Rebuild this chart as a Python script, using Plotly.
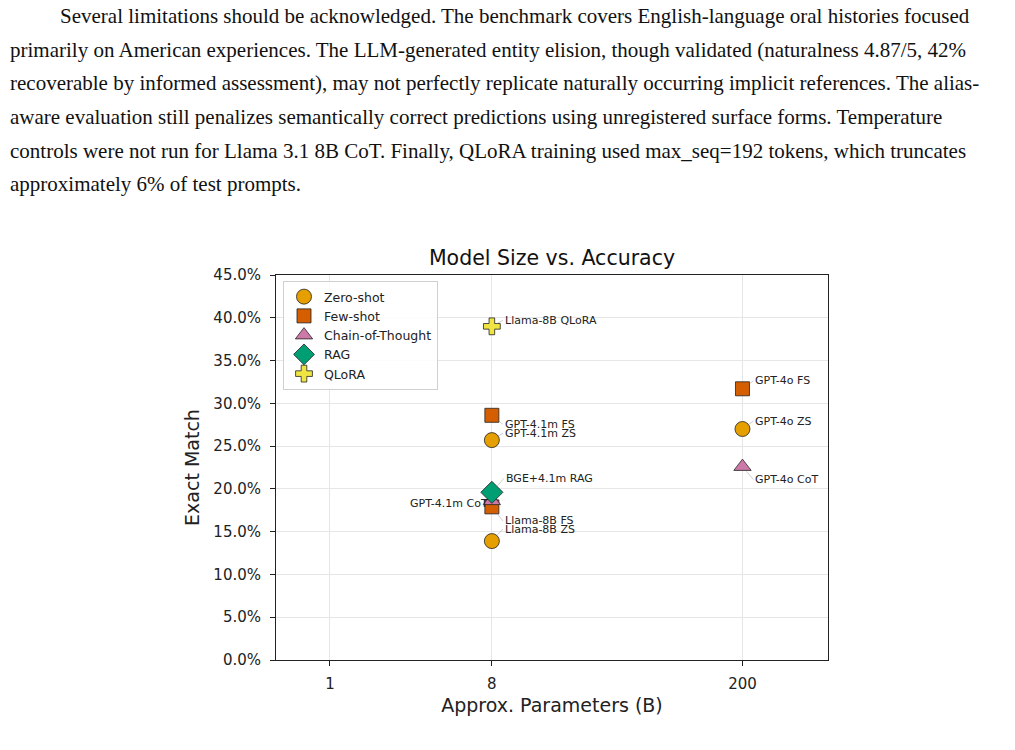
import numpy as np
import plotly.graph_objects as go

# ---------------- data ----------------
zs_labels = ["Llama-8B ZS", "GPT-4.1m ZS", "GPT-4o ZS"]
zs_params = [8, 8, 200]
zs_em = [13.9, 25.7, 27.0]

fs_labels = ["Llama-8B FS", "GPT-4.1m FS", "GPT-4o FS"]
fs_params = [8, 8, 200]
fs_em = [17.9, 28.6, 31.7]

cot_labels = ["GPT-4.1m CoT", "GPT-4o CoT"]
cot_params = [8, 200]
cot_em = [18.6, 22.6]

rag_labels = ["BGE+4.1m RAG"]
rag_params = [8]
rag_em = [19.6]

qlora_labels = ["Llama-8B QLoRA"]
qlora_params = [8]
qlora_em = [39.0]

x_ticks = [1, 8, 200]
y_ticks = [0, 5, 10, 15, 20, 25, 30, 35, 40, 45]

paragraph_lines = [
    "Several limitations should be acknowledged. The benchmark covers English-language oral histories focused",
    "primarily on American experiences. The LLM-generated entity elision, though validated (naturalness 4.87/5, 42%",
    "recoverable by informed assessment), may not perfectly replicate naturally occurring implicit references. The alias-",
    "aware evaluation still penalizes semantically correct predictions using unregistered surface forms. Temperature",
    "controls were not run for Llama 3.1 8B CoT. Finally, QLoRA training used max_seq=192 tokens, which truncates",
    "approximately 6% of test prompts.",
]

# ---------------- styles / layout ----------------
W, H = 1015, 750
L, R, T, B = 276, 828, 275, 660   # plot area in pixels

series = [
    ("Zero-shot", zs_labels, zs_params, zs_em, "circle", "#E69F00", 15),
    ("Few-shot", fs_labels, fs_params, fs_em, "square", "#D55E00", 14),
    ("Chain-of-Thought", cot_labels, cot_params, cot_em, "triangle-up", "#CC79A7", 15),
    ("RAG", rag_labels, rag_params, rag_em, "diamond", "#009E73", 17),
    ("QLoRA", qlora_labels, qlora_params, qlora_em, "cross", "#F0E442", 14),
]

# label offsets in pixels (dx to text edge, dy to text centre)
label_offsets = {
    "Llama-8B QLoRA": (11, -6, "left"),
    "GPT-4.1m FS": (11, 9, "left"),
    "GPT-4.1m ZS": (11, -7, "left"),
    "BGE+4.1m RAG": (12, -14, "left"),
    "GPT-4.1m CoT": (-2, 3, "right"),
    "Llama-8B FS": (11, 14, "left"),
    "Llama-8B ZS": (11, -12, "left"),
    "GPT-4o FS": (11, -8, "left"),
    "GPT-4o ZS": (11, -8, "left"),
    "GPT-4o CoT": (11, 13, "left"),
}


def px_to_paper(px, py):
    return (px - L) / (R - L), (B - py) / (B - T)


FONT = "DejaVu Sans"
fig = go.Figure()

for name, labels, xs, ys, sym, col, sz in series:
    fig.add_trace(go.Scatter(
        x=xs, y=ys, mode="markers", name=name,
        marker=dict(symbol=sym, color=col, size=sz,
                    line=dict(color="#222222", width=0.8)),
        hoverinfo="text", text=labels,
    ))

annotations = []
for name, labels, xs, ys, sym, col, sz in series:
    for lab, xv, yv in zip(labels, xs, ys):
        dx, dy, anch = label_offsets[lab]
        annotations.append(dict(
            x=np.log10(xv), y=yv, xref="x", yref="y",
            text=lab, showarrow=True, ax=dx, ay=dy,
            xanchor=anch, yanchor="middle",
            arrowhead=0, arrowwidth=0.6, arrowcolor="rgba(120,120,120,0.6)",
            standoff=6,
            font=dict(family=FONT, size=11, color="#222222"),
        ))

# paragraph text above the chart
line_y = [16, 50, 83, 117, 151, 184]
for i, (line, yy) in enumerate(zip(paragraph_lines, line_y)):
    xp, yp = px_to_paper(58 if i == 0 else 8, yy)
    annotations.append(dict(
        x=xp, y=yp, xref="paper", yref="paper", xanchor="left", yanchor="middle",
        text=line, showarrow=False,
        font=dict(family="Liberation Serif", size=21, color="#111111"),
    ))

lx, ly = px_to_paper(283, 281)
fig.update_layout(
    width=W, height=H,
    margin=dict(l=L, r=W - R, t=T, b=H - B),
    paper_bgcolor="white", plot_bgcolor="white",
    font=dict(family=FONT, size=15, color="#222222"),
    title=dict(text="Model Size vs. Accuracy", x=552 / W, xanchor="center",
               y=1 - 258 / H, yanchor="middle",
               font=dict(family=FONT, size=20.5, color="#111111")),
    showlegend=True,
    legend=dict(x=lx, y=ly, xanchor="left", yanchor="top",
                bgcolor="rgba(255,255,255,0.85)", bordercolor="#d0d0d0",
                borderwidth=1, font=dict(family=FONT, size=12.5, color="#222222"),
                itemsizing="trace", tracegroupgap=0),
    annotations=annotations,
)

fig.update_xaxes(
    type="log", range=[np.log10(0.5), np.log10(600)],
    tickvals=x_ticks, ticktext=[str(t) for t in x_ticks],
    showgrid=True, gridcolor="#e6e6e6", gridwidth=1,
    showline=True, linecolor="#222222", linewidth=1, mirror=True,
    ticks="outside", ticklen=5, tickcolor="#222222", ticklabelstandoff=5,
    tickfont=dict(family=FONT, size=15),
    title=dict(text="Approx. Parameters (B)", font=dict(family=FONT, size=19), standoff=6),
    zeroline=False,
)
fig.update_yaxes(
    range=[0, 45], tickvals=y_ticks,
    ticktext=[f"{v:.1f}%" for v in y_ticks],
    showgrid=True, gridcolor="#e6e6e6", gridwidth=1,
    showline=True, linecolor="#222222", linewidth=1, mirror=True,
    ticks="outside", ticklen=5, tickcolor="#222222", ticklabelstandoff=6,
    tickfont=dict(family=FONT, size=15),
    title=dict(text="Exact Match", font=dict(family=FONT, size=19), standoff=8),
    zeroline=False,
)

fig.write_html("out.html")
